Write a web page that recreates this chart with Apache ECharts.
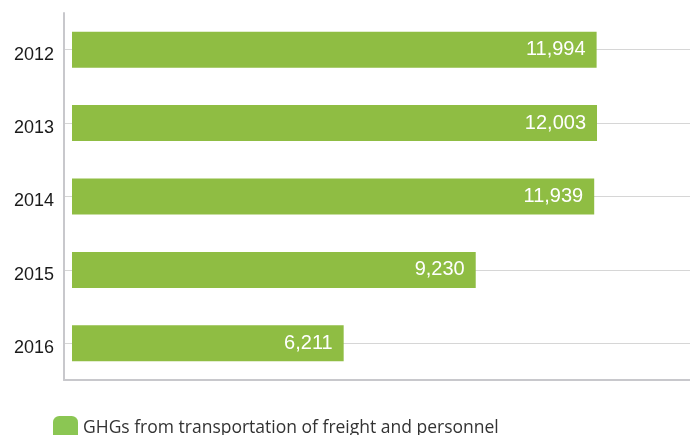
<!DOCTYPE html>
<html>
<head>
<meta charset="utf-8">
<script src="https://cdn.jsdelivr.net/npm/echarts@6/dist/echarts.min.js"></script>
<style>
  html, body { margin: 0; padding: 0; background: #fff; }
  #chart { width: 690px; height: 435px; }
</style>
</head>
<body>
<div id="chart"></div>
<script>
// Yearly GHG emissions from transportation of freight and personnel
const years = ['2012', '2013', '2014', '2015', '2016'];
const emissions = [11994, 12003, 11939, 9230, 6211];
const seriesName = 'GHGs from transportation of freight and personnel';

const chart = echarts.init(document.getElementById('chart'));

chart.setOption({
  animation: false,
  grid: { left: 64, right: 0, top: 13, bottom: 55, containLabel: false },
  legend: {
    left: 48,
    top: 411,
    itemWidth: 25,
    itemHeight: 25,
    icon: 'roundRect',
    itemGap: 10,
    textStyle: { fontFamily: 'Open Sans', fontSize: 17.5, color: '#333' },
    data: [{ name: seriesName, itemStyle: { color: '#8bc653' } }]
  },
  xAxis: {
    type: 'value',
    min: -183,
    max: 14129,
    axisLine: { show: true, onZero: false, lineStyle: { color: '#c8c8cc', width: 2 } },
    axisTick: { show: false },
    axisLabel: { show: false },
    splitLine: { show: false }
  },
  yAxis: {
    type: 'category',
    inverse: true,
    data: years,
    axisLine: { show: true, onZero: false, lineStyle: { color: '#c8c8cc', width: 2 } },
    axisTick: { show: false },
    axisLabel: {
      margin: 10,
      fontFamily: 'Liberation Sans, Arial, sans-serif',
      fontSize: 18,
      color: '#1a1a1a',
      verticalAlign: 'top',
      lineHeight: 10
    },
    splitLine: { show: false }
  },
  series: [
    {
      // horizontal guide lines through each year, kept behind the bars
      type: 'line',
      data: [],
      z: 0,
      zlevel: 0,
      silent: true,
      markLine: {
        z: 0,
        silent: true,
        symbol: 'none',
        label: { show: false },
        lineStyle: { color: '#d6d6d6', width: 1, type: 'solid' },
        data: years.map(y => ({ yAxis: y }))
      }
    },
    {
      name: seriesName,
      type: 'bar',
      z: 10,
      zlevel: 0,
      data: emissions,
      barWidth: 36,
      itemStyle: { color: '#8fbd43' },
      label: {
        show: true,
        position: 'insideRight',
        distance: 11,
        color: '#ffffff',
        fontFamily: 'Liberation Sans, Arial, sans-serif',
        fontSize: 20,
        formatter: p => p.value.toLocaleString('en-US')
      }
    }
  ]
});
</script>
</body>
</html>
